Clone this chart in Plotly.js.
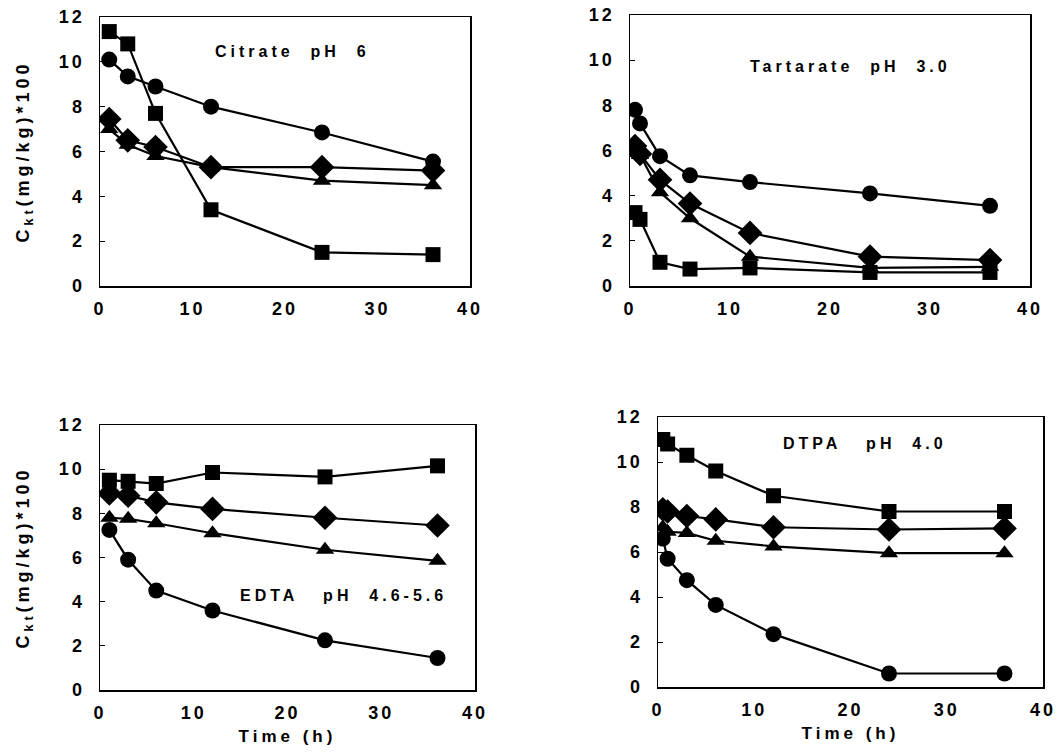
<!DOCTYPE html>
<html>
<head>
<meta charset="utf-8">
<script src="https://cdn.plot.ly/plotly-3.0.1.min.js"></script>
<style>
html,body{margin:0;padding:0;background:#fff;}
#chart{width:1058px;height:753px;}
#chart .main-svg text{letter-spacing:3px;}
#chart .main-svg text.annotation-text{letter-spacing:4px;}
#chart .main-svg text.ytitle, #chart .main-svg text.y3title{letter-spacing:4px;}
#chart .main-svg text.x3title, #chart .main-svg text.x4title{letter-spacing:4px;}
</style>
</head>
<body>
<div id="chart"></div>
<script>
// ---- Data ----
const panelTitles = ["Citrate  pH  6", "Tartarate  pH  3.0", "EDTA   pH  4.6-5.6", "DTPA   pH  4.0"];
const yTitle = "C<sub>kt</sub>(mg/kg)*100";
const xTitle = "Time (h)";

// Citrate pH 6
const tCitrate = [1, 3, 6, 12, 24, 36];
const citrateSquare   = [11.35, 10.8, 7.7, 3.4, 1.5, 1.4];
const citrateCircle   = [10.1, 9.35, 8.9, 8.0, 6.85, 5.55];
const citrateDiamond  = [7.45, 6.5, 6.2, 5.3, 5.3, 5.15];
const citrateTriangle = [7.0, 6.3, 5.8, 5.3, 4.7, 4.5];

// Tartarate pH 3.0
const tTartarate = [0.5, 1, 3, 6, 12, 24, 36];
const tartarateCircle   = [7.8, 7.2, 5.75, 4.9, 4.6, 4.1, 3.55];
const tartarateDiamond  = [6.2, 5.85, 4.7, 3.65, 2.35, 1.3, 1.15];
const tartarateTriangle = [6.3, 5.8, 4.15, 3.0, 1.3, 0.8, 0.85];
const tartarateSquare   = [3.25, 2.95, 1.05, 0.75, 0.8, 0.6, 0.6];

// EDTA pH 4.6-5.6
const tEdta = [1, 3, 6, 12, 24, 36];
const edtaSquare   = [9.5, 9.45, 9.35, 9.85, 9.65, 10.15];
const edtaDiamond  = [8.9, 8.8, 8.5, 8.2, 7.8, 7.45];
const edtaTriangle = [7.8, 7.75, 7.55, 7.1, 6.35, 5.85];
const edtaCircle   = [7.25, 5.9, 4.5, 3.6, 2.25, 1.45];

// DTPA pH 4.0
const tDtpa = [0.5, 1, 3, 6, 12, 24, 36];
const dtpaSquare   = [11.0, 10.8, 10.3, 9.6, 8.5, 7.8, 7.8];
const dtpaDiamond  = [7.9, 7.8, 7.6, 7.45, 7.1, 7.0, 7.05];
const dtpaTriangle = [7.1, 6.9, 6.85, 6.5, 6.25, 5.95, 5.95];
const dtpaCircle   = [6.6, 5.7, 4.75, 3.65, 2.35, 0.6, 0.6];

// ---- Build traces ----
const markerSize = {"square": 15, "circle": 16, "diamond": 19, "triangle-up": 16};
function tr(x, y, symbol, ax) {
  return {
    x: x, y: y, type: "scatter", mode: "lines+markers",
    xaxis: "x" + ax, yaxis: "y" + ax,
    line: {color: "#000", width: 2.2},
    marker: {symbol: symbol, color: "#000", size: markerSize[symbol], line: {width: 0}},
    showlegend: false, hoverinfo: "x+y"
  };
}
const data = [
  tr(tCitrate, citrateSquare, "square", ""),
  tr(tCitrate, citrateCircle, "circle", ""),
  tr(tCitrate, citrateDiamond, "diamond", ""),
  tr(tCitrate, citrateTriangle, "triangle-up", ""),
  tr(tTartarate, tartarateCircle, "circle", "2"),
  tr(tTartarate, tartarateDiamond, "diamond", "2"),
  tr(tTartarate, tartarateTriangle, "triangle-up", "2"),
  tr(tTartarate, tartarateSquare, "square", "2"),
  tr(tEdta, edtaSquare, "square", "3"),
  tr(tEdta, edtaDiamond, "diamond", "3"),
  tr(tEdta, edtaTriangle, "triangle-up", "3"),
  tr(tEdta, edtaCircle, "circle", "3"),
  tr(tDtpa, dtpaSquare, "square", "4"),
  tr(tDtpa, dtpaDiamond, "diamond", "4"),
  tr(tDtpa, dtpaTriangle, "triangle-up", "4"),
  tr(tDtpa, dtpaCircle, "circle", "4")
];

const W = 1058, H = 753;
const fx = p => p / W;
const fy = p => 1 - p / H;
const FAM = "Liberation Sans, Arial, sans-serif";
const tickFont = {family: FAM, size: 18, color: "#000", weight: "bold"};
const annFont = {family: FAM, size: 16, color: "#000", weight: "bold"};
const yTitleFont = {family: FAM, size: 18, color: "#000", weight: "bold"};
const xTitleFont = {family: FAM, size: 17, color: "#000", weight: "bold"};

function xa(l, r, anchor, showTitle) {
  const a = {
    domain: [fx(l), fx(r)], range: [0, 40], dtick: 10, tick0: 0,
    showgrid: false, zeroline: false, showline: true, mirror: true,
    linecolor: "#000", linewidth: 1.5, ticks: "", tickfont: tickFont,
    ticklabelstandoff: 6, anchor: anchor, fixedrange: true
  };
  if (showTitle) a.title = {text: xTitle, font: xTitleFont, standoff: 8};
  return a;
}
function ya(t, b, anchor, showTitle) {
  const a = {
    domain: [fy(b), fy(t)], range: [0, 12], dtick: 2, tick0: 0,
    showgrid: false, zeroline: false, showline: true, mirror: true,
    linecolor: "#000", linewidth: 1.5, ticks: "inside", ticklen: 5, tickcolor: "#000",
    tickfont: tickFont, ticklabelstandoff: 10, anchor: anchor, fixedrange: true
  };
  if (showTitle) a.title = {text: yTitle, font: yTitleFont, standoff: 30};
  return a;
}

const layout = {
  width: W, height: H,
  margin: {l: 0, r: 0, t: 0, b: 0},
  paper_bgcolor: "#fff", plot_bgcolor: "#fff",
  showlegend: false,
  xaxis:  xa(100, 470, "y", false),
  yaxis:  ya(17, 286, "x", true),
  xaxis2: xa(630, 1030, "y2", false),
  yaxis2: ya(15, 286, "x2", false),
  xaxis3: xa(100, 475, "y3", true),
  yaxis3: ya(425, 690, "x3", true),
  xaxis4: xa(658, 1043, "y4", true),
  yaxis4: ya(417, 687, "x4", false),
  annotations: [
    {text: panelTitles[0], xref: "paper", yref: "paper", x: fx(292), y: fy(52), showarrow: false, font: annFont, xanchor: "center", yanchor: "middle"},
    {text: panelTitles[1], xref: "paper", yref: "paper", x: fx(850), y: fy(66), showarrow: false, font: annFont, xanchor: "center", yanchor: "middle"},
    {text: panelTitles[2], xref: "paper", yref: "paper", x: fx(343), y: fy(595), showarrow: false, font: annFont, xanchor: "center", yanchor: "middle"},
    {text: panelTitles[3], xref: "paper", yref: "paper", x: fx(865), y: fy(443), showarrow: false, font: annFont, xanchor: "center", yanchor: "middle"}
  ]
};

Plotly.newPlot("chart", data, layout, {displayModeBar: false, staticPlot: true});
</script>
</body>
</html>
